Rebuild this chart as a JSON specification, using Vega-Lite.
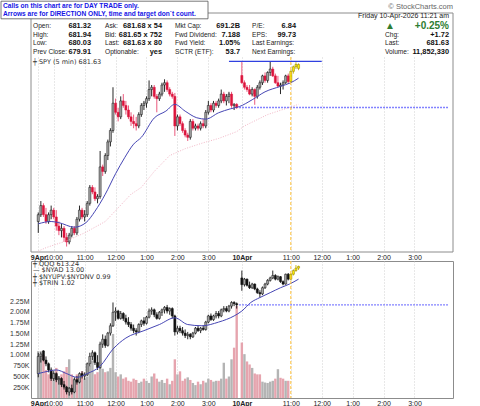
{
  "$schema": "https://vega.github.io/schema/vega-lite/v6.json",
  "padding": 0,
  "background": "white",
  "bounds": "flush",
  "spacing": 9,
  "config": {
    "view": {"stroke": "#8c8c8c"},
    "font": "Liberation Sans",
    "axis": {
      "labelFont": "Liberation Sans",
      "labelFontSize": 7,
      "labelColor": "#333333",
      "domain": false,
      "ticks": false,
      "title": null,
      "gridColor": "#c4c4c4",
      "gridDash": [1, 2],
      "gridWidth": 0.8,
      "labelPadding": 2
    },
    "title": {
      "font": "DejaVu Sans",
      "fontSize": 6.5,
      "fontWeight": "normal",
      "color": "#333333",
      "anchor": "start",
      "frame": "group"
    }
  },
  "datasets": {
    "header": [
      {"col": 0, "row": 2, "label": "Open:", "value": "681.32"},
      {"col": 0, "row": 3, "label": "High:", "value": "681.94"},
      {"col": 0, "row": 4, "label": "Low:", "value": "680.03"},
      {"col": 0, "row": 5, "label": "Prev Close:", "value": "679.91"},
      {"col": 1, "row": 2, "label": "Ask:", "value": "681.68 x 54"},
      {"col": 1, "row": 3, "label": "Bid:", "value": "681.65 x 752"},
      {"col": 1, "row": 4, "label": "Last:", "value": "681.63 x 80"},
      {"col": 1, "row": 5, "label": "Optionable:", "value": "yes"},
      {"col": 2, "row": 2, "label": "Mkt Cap:", "value": "691.2B"},
      {"col": 2, "row": 3, "label": "Fwd Dividend:", "value": "7.188"},
      {"col": 2, "row": 4, "label": "Fwd Yield:", "value": "1.05%"},
      {"col": 2, "row": 5, "label": "SCTR (ETF):", "value": "53.7"},
      {"col": 3, "row": 2, "label": "P/E:", "value": "6.84"},
      {"col": 3, "row": 3, "label": "EPS:", "value": "99.73"},
      {"col": 3, "row": 4, "label": "Last Earnings:", "value": ""},
      {"col": 3, "row": 5, "label": "Next Earnings:", "value": ""},
      {"col": 4, "row": 2, "label": "▲", "value": "+0.25%"},
      {"col": 4, "row": 3, "label": "Chg:", "value": "+1.72"},
      {"col": 4, "row": 4, "label": "Last:", "value": "681.63"},
      {"col": 4, "row": 5, "label": "Volume:", "value": "11,852,330"}
    ],
    "headerRight": [
      {"col": 5, "row": 0, "text": "© StockCharts.com"},
      {"col": 4, "row": 1, "text": "Friday  10-Apr-2026  11:21 am"}
    ],
    "note": [
      {"line": 0, "text": "Calls on this chart are for DAY TRADE only."},
      {"line": 1, "text": "Arrows are for DIRECTION ONLY, time and target don`t count."}
    ],
    "spy": [
      {"t":0,"o":674.9,"h":675.3,"l":674.4,"c":675.2},
      {"t":1,"o":675.2,"h":675.8,"l":675.1,"c":675.6},
      {"t":2,"o":675.6,"h":675.7,"l":675.1,"c":675.2},
      {"t":3,"o":675.2,"h":675.5,"l":674.8,"c":674.9},
      {"t":4,"o":674.9,"h":675.3,"l":674.8,"c":675.2},
      {"t":5,"o":675.2,"h":675.6,"l":675.0,"c":675.4},
      {"t":6,"o":675.4,"h":675.5,"l":675.0,"c":675.1},
      {"t":7,"o":675.1,"h":675.4,"l":674.5,"c":674.7},
      {"t":8,"o":674.7,"h":674.9,"l":674.3,"c":674.5},
      {"t":9,"o":674.5,"h":674.8,"l":674.2,"c":674.6},
      {"t":10,"o":674.6,"h":674.7,"l":674.0,"c":674.2},
      {"t":11,"o":674.2,"h":674.4,"l":673.8,"c":674.0},
      {"t":12,"o":674.0,"h":674.4,"l":673.9,"c":674.3},
      {"t":13,"o":674.3,"h":674.7,"l":674.2,"c":674.6},
      {"t":14,"o":674.6,"h":674.7,"l":674.3,"c":674.4},
      {"t":15,"o":674.4,"h":675.1,"l":674.3,"c":675.0},
      {"t":16,"o":675.0,"h":675.6,"l":674.9,"c":675.4},
      {"t":17,"o":675.4,"h":675.5,"l":675.0,"c":675.1},
      {"t":18,"o":675.1,"h":675.4,"l":674.9,"c":675.2},
      {"t":19,"o":675.2,"h":675.8,"l":675.1,"c":675.7},
      {"t":20,"o":675.7,"h":676.5,"l":675.6,"c":676.4},
      {"t":21,"o":676.4,"h":676.5,"l":676.1,"c":676.2},
      {"t":22,"o":676.2,"h":676.4,"l":675.8,"c":675.9},
      {"t":23,"o":675.9,"h":676.1,"l":675.7,"c":676.0},
      {"t":24,"o":676.0,"h":678.0,"l":675.9,"c":677.3},
      {"t":25,"o":677.3,"h":677.4,"l":676.9,"c":677.1},
      {"t":26,"o":677.1,"h":677.9,"l":677.0,"c":677.8},
      {"t":27,"o":677.8,"h":678.5,"l":677.6,"c":678.4},
      {"t":28,"o":678.4,"h":679.0,"l":678.2,"c":678.9},
      {"t":29,"o":678.9,"h":680.8,"l":678.8,"c":680.1},
      {"t":30,"o":680.1,"h":680.3,"l":679.6,"c":679.7},
      {"t":31,"o":679.7,"h":679.9,"l":679.3,"c":679.5},
      {"t":32,"o":679.5,"h":680.4,"l":679.4,"c":680.2},
      {"t":33,"o":680.2,"h":680.5,"l":679.9,"c":680.0},
      {"t":34,"o":680.0,"h":680.2,"l":679.6,"c":679.8},
      {"t":35,"o":679.8,"h":680.0,"l":679.4,"c":679.5},
      {"t":36,"o":679.5,"h":679.7,"l":679.1,"c":679.3},
      {"t":37,"o":679.3,"h":679.6,"l":679.0,"c":679.2},
      {"t":38,"o":679.2,"h":679.5,"l":678.9,"c":679.1},
      {"t":39,"o":679.1,"h":679.7,"l":679.0,"c":679.6},
      {"t":40,"o":679.6,"h":680.1,"l":679.5,"c":680.0},
      {"t":41,"o":680.0,"h":680.2,"l":679.8,"c":680.1},
      {"t":42,"o":680.1,"h":680.4,"l":679.9,"c":680.3},
      {"t":43,"o":680.3,"h":681.1,"l":680.2,"c":680.7},
      {"t":44,"o":680.7,"h":680.9,"l":680.4,"c":680.8},
      {"t":45,"o":680.8,"h":680.9,"l":680.3,"c":680.4},
      {"t":46,"o":680.4,"h":680.5,"l":679.7,"c":680.3},
      {"t":47,"o":680.3,"h":680.6,"l":680.2,"c":680.5},
      {"t":48,"o":680.5,"h":681.0,"l":680.4,"c":680.9},
      {"t":49,"o":680.9,"h":681.15,"l":680.6,"c":681.0},
      {"t":50,"o":681.0,"h":681.1,"l":680.6,"c":680.7},
      {"t":51,"o":680.7,"h":680.8,"l":680.4,"c":680.5},
      {"t":52,"o":680.5,"h":680.6,"l":680.3,"c":680.4},
      {"t":53,"o":680.4,"h":680.55,"l":678.66,"c":679.1},
      {"t":54,"o":679.1,"h":679.6,"l":678.9,"c":679.5},
      {"t":55,"o":679.5,"h":679.6,"l":679.1,"c":679.2},
      {"t":56,"o":679.2,"h":679.3,"l":678.8,"c":678.9},
      {"t":57,"o":678.9,"h":679.0,"l":678.6,"c":678.7},
      {"t":58,"o":678.7,"h":678.8,"l":678.44,"c":678.6},
      {"t":59,"o":678.6,"h":679.4,"l":678.5,"c":679.3},
      {"t":60,"o":679.3,"h":679.4,"l":678.9,"c":679.0},
      {"t":61,"o":679.0,"h":679.2,"l":678.9,"c":679.1},
      {"t":62,"o":679.1,"h":679.2,"l":678.9,"c":679.0},
      {"t":63,"o":679.0,"h":679.3,"l":678.9,"c":679.2},
      {"t":64,"o":679.2,"h":679.4,"l":679.0,"c":679.1},
      {"t":65,"o":679.1,"h":679.8,"l":679.0,"c":679.7},
      {"t":66,"o":679.7,"h":680.2,"l":679.6,"c":680.0},
      {"t":67,"o":680.0,"h":680.1,"l":679.7,"c":679.8},
      {"t":68,"o":679.8,"h":680.2,"l":679.7,"c":680.1},
      {"t":69,"o":680.1,"h":680.2,"l":679.9,"c":680.0},
      {"t":70,"o":680.0,"h":680.3,"l":679.9,"c":680.2},
      {"t":71,"o":680.2,"h":680.7,"l":680.1,"c":680.5},
      {"t":72,"o":680.5,"h":680.6,"l":680.1,"c":680.2},
      {"t":73,"o":680.2,"h":680.5,"l":680.0,"c":680.4},
      {"t":74,"o":680.4,"h":680.6,"l":680.1,"c":680.5},
      {"t":75,"o":680.5,"h":680.6,"l":679.9,"c":680.0},
      {"t":76,"o":680.0,"h":680.1,"l":679.8,"c":680.05},
      {"t":77,"o":680.05,"h":680.1,"l":679.85,"c":679.91},
      {"t":79,"o":681.32,"h":681.94,"l":680.95,"c":681.0},
      {"t":80,"o":681.0,"h":681.1,"l":680.7,"c":680.8},
      {"t":81,"o":680.8,"h":680.9,"l":680.6,"c":680.7},
      {"t":82,"o":680.7,"h":680.9,"l":680.45,"c":680.5},
      {"t":83,"o":680.5,"h":680.8,"l":680.4,"c":680.7},
      {"t":84,"o":680.7,"h":680.75,"l":680.03,"c":680.4},
      {"t":85,"o":680.4,"h":680.9,"l":680.3,"c":680.8},
      {"t":86,"o":680.8,"h":681.1,"l":680.7,"c":681.0},
      {"t":87,"o":681.0,"h":681.35,"l":680.9,"c":681.3},
      {"t":88,"o":681.3,"h":681.45,"l":681.0,"c":681.1},
      {"t":89,"o":681.1,"h":681.5,"l":681.0,"c":681.45},
      {"t":90,"o":681.45,"h":681.94,"l":681.3,"c":681.6},
      {"t":91,"o":681.6,"h":681.7,"l":681.25,"c":681.3},
      {"t":92,"o":681.3,"h":681.4,"l":680.95,"c":681.0},
      {"t":93,"o":681.0,"h":681.3,"l":680.8,"c":680.85},
      {"t":94,"o":680.85,"h":681.0,"l":680.5,"c":680.9},
      {"t":95,"o":680.9,"h":681.1,"l":680.7,"c":681.0},
      {"t":96,"o":681.0,"h":681.35,"l":680.95,"c":681.3},
      {"t":97,"o":681.3,"h":681.4,"l":680.95,"c":681.05},
      {"t":98,"o":681.05,"h":681.55,"l":681.0,"c":681.5},
      {"t":99,"o":681.5,"h":681.75,"l":681.4,"c":681.7},
      {"t":100,"o":681.7,"h":681.9,"l":681.6,"c":681.8},
      {"t":101,"o":681.8,"h":681.85,"l":681.55,"c":681.63}
    ],
    "spyMa": [
      {"t":0,"v":674.8},{"t":5,"v":674.9},{"t":8,"v":674.85},{"t":14,"v":674.65},
      {"t":18.5,"v":674.85},{"t":22,"v":675.35},{"t":26,"v":676.1},{"t":30,"v":677.0},
      {"t":33.5,"v":677.7},{"t":37,"v":678.3},{"t":40,"v":678.6},{"t":45,"v":679.45},
      {"t":49.5,"v":679.75},{"t":53,"v":680.05},{"t":57,"v":679.75},{"t":61.5,"v":679.46},
      {"t":65,"v":679.4},{"t":70,"v":679.68},{"t":74.5,"v":679.85},{"t":78,"v":679.95},
      {"t":83,"v":680.25},{"t":88,"v":680.6},{"t":94,"v":680.84},{"t":98,"v":681.0},
      {"t":101,"v":681.2}
    ],
    "spyMaLong": [
      {"t":0,"v":673.6},{"t":3,"v":673.75},{"t":11,"v":674.05},{"t":18,"v":674.4},
      {"t":26,"v":674.9},{"t":31,"v":675.5},{"t":36,"v":676.1},{"t":40,"v":676.4},
      {"t":45,"v":677.1},{"t":51,"v":677.8},{"t":57,"v":678.1},{"t":64,"v":678.36},
      {"t":70,"v":678.55},{"t":77,"v":678.85},{"t":80,"v":679.1},{"t":89,"v":679.6},
      {"t":101,"v":680.05}
    ],
    "spyHigh": [{"t": 74, "t2": 110, "p": 681.94}],
    "spyPrev": [{"t": 78, "t2": 159, "p": 679.91}],
    "qqqPrev": [{"t": 78, "t2": 159, "p": 610.1}],
    "marker": [{"t": 98}],
    "qqq": [
      {"t":0,"o":604.5,"h":606.2,"l":604.2,"c":605.9,"v":1090000},
      {"t":1,"o":605.9,"h":606.3,"l":605.4,"c":606.1,"v":950000},
      {"t":2,"o":606.35,"h":606.4,"l":605.5,"c":605.6,"v":1000000},
      {"t":3,"o":605.6,"h":605.9,"l":605.1,"c":605.3,"v":650000},
      {"t":4,"o":605.3,"h":605.4,"l":604.6,"c":604.8,"v":550000},
      {"t":5,"o":604.8,"h":605.0,"l":603.9,"c":604.1,"v":600000},
      {"t":6,"o":604.1,"h":604.7,"l":603.9,"c":604.5,"v":580000},
      {"t":7,"o":604.5,"h":604.6,"l":603.8,"c":604.0,"v":700000},
      {"t":8,"o":604.0,"h":604.3,"l":603.6,"c":604.1,"v":500000},
      {"t":9,"o":604.1,"h":604.2,"l":603.4,"c":603.6,"v":550000},
      {"t":10,"o":603.6,"h":603.9,"l":603.2,"c":603.4,"v":620000},
      {"t":11,"o":603.4,"h":603.5,"l":602.8,"c":603.0,"v":720000},
      {"t":12,"o":603.0,"h":603.4,"l":602.7,"c":603.3,"v":900000},
      {"t":13,"o":603.3,"h":603.6,"l":602.8,"c":603.0,"v":550000},
      {"t":14,"o":603.0,"h":604.2,"l":602.9,"c":604.0,"v":450000},
      {"t":15,"o":604.0,"h":604.3,"l":603.6,"c":603.8,"v":550000},
      {"t":16,"o":603.8,"h":604.6,"l":603.7,"c":604.5,"v":500000},
      {"t":17,"o":604.5,"h":604.7,"l":604.1,"c":604.3,"v":620000},
      {"t":18,"o":604.3,"h":604.6,"l":604.0,"c":604.4,"v":450000},
      {"t":19,"o":604.4,"h":605.4,"l":604.3,"c":605.3,"v":500000},
      {"t":20,"o":605.3,"h":606.2,"l":605.1,"c":605.9,"v":750000},
      {"t":21,"o":605.9,"h":606.4,"l":605.6,"c":606.2,"v":870000},
      {"t":22,"o":606.2,"h":606.3,"l":605.2,"c":605.4,"v":550000},
      {"t":23,"o":605.4,"h":606.0,"l":604.8,"c":605.0,"v":600000},
      {"t":24,"o":605.0,"h":607.1,"l":604.9,"c":606.9,"v":850000},
      {"t":25,"o":606.9,"h":607.7,"l":606.6,"c":607.3,"v":680000},
      {"t":26,"o":607.3,"h":607.6,"l":606.6,"c":606.8,"v":600000},
      {"t":27,"o":606.8,"h":607.9,"l":606.7,"c":607.8,"v":620000},
      {"t":28,"o":607.8,"h":608.6,"l":607.6,"c":608.4,"v":700000},
      {"t":29,"o":608.4,"h":610.3,"l":608.3,"c":609.5,"v":1490000},
      {"t":30,"o":609.5,"h":609.9,"l":608.8,"c":609.6,"v":600000},
      {"t":31,"o":609.6,"h":609.7,"l":608.9,"c":609.0,"v":500000},
      {"t":32,"o":609.0,"h":609.6,"l":608.9,"c":609.4,"v":550000},
      {"t":33,"o":609.4,"h":609.5,"l":608.8,"c":609.0,"v":450000},
      {"t":34,"o":609.0,"h":609.3,"l":608.5,"c":608.7,"v":480000},
      {"t":35,"o":608.7,"h":609.1,"l":608.3,"c":608.5,"v":400000},
      {"t":36,"o":608.5,"h":608.7,"l":608.0,"c":608.2,"v":380000},
      {"t":37,"o":608.2,"h":608.5,"l":607.8,"c":608.0,"v":450000},
      {"t":38,"o":608.0,"h":608.2,"l":607.6,"c":607.9,"v":420000},
      {"t":39,"o":607.9,"h":608.6,"l":607.8,"c":608.5,"v":350000},
      {"t":40,"o":608.5,"h":608.9,"l":608.3,"c":608.8,"v":380000},
      {"t":41,"o":608.8,"h":609.1,"l":608.4,"c":608.6,"v":450000},
      {"t":42,"o":608.6,"h":609.2,"l":608.5,"c":609.1,"v":400000},
      {"t":43,"o":609.1,"h":609.8,"l":609.0,"c":609.6,"v":350000},
      {"t":44,"o":609.6,"h":609.9,"l":609.3,"c":609.7,"v":500000},
      {"t":45,"o":609.7,"h":609.8,"l":609.1,"c":609.3,"v":570000},
      {"t":46,"o":609.3,"h":609.5,"l":608.9,"c":609.0,"v":450000},
      {"t":47,"o":609.0,"h":609.6,"l":608.9,"c":609.5,"v":380000},
      {"t":48,"o":609.5,"h":609.8,"l":609.2,"c":609.7,"v":420000},
      {"t":49,"o":609.7,"h":610.0,"l":609.4,"c":609.9,"v":350000},
      {"t":50,"o":609.9,"h":610.1,"l":609.4,"c":609.6,"v":450000},
      {"t":51,"o":609.6,"h":609.9,"l":609.3,"c":609.8,"v":320000},
      {"t":52,"o":609.8,"h":609.9,"l":609.0,"c":609.2,"v":400000},
      {"t":53,"o":609.2,"h":609.3,"l":607.6,"c":607.9,"v":900000},
      {"t":54,"o":607.9,"h":608.4,"l":607.7,"c":608.2,"v":550000},
      {"t":55,"o":608.2,"h":608.4,"l":607.8,"c":608.0,"v":620000},
      {"t":56,"o":608.0,"h":608.3,"l":607.6,"c":607.8,"v":400000},
      {"t":57,"o":607.8,"h":608.1,"l":607.4,"c":607.6,"v":450000},
      {"t":58,"o":607.6,"h":607.9,"l":607.3,"c":607.7,"v":480000},
      {"t":59,"o":607.7,"h":607.8,"l":607.3,"c":607.5,"v":420000},
      {"t":60,"o":607.5,"h":607.9,"l":607.4,"c":607.8,"v":350000},
      {"t":61,"o":607.8,"h":608.3,"l":607.7,"c":608.2,"v":300000},
      {"t":62,"o":608.2,"h":608.4,"l":607.9,"c":608.0,"v":380000},
      {"t":63,"o":608.0,"h":608.3,"l":607.8,"c":608.2,"v":320000},
      {"t":64,"o":608.2,"h":608.4,"l":608.0,"c":608.1,"v":400000},
      {"t":65,"o":608.1,"h":608.8,"l":608.0,"c":608.7,"v":360000},
      {"t":66,"o":608.7,"h":609.3,"l":608.6,"c":609.2,"v":450000},
      {"t":67,"o":609.2,"h":609.4,"l":608.8,"c":608.9,"v":420000},
      {"t":68,"o":608.9,"h":609.3,"l":608.8,"c":609.2,"v":380000},
      {"t":69,"o":609.2,"h":609.6,"l":609.0,"c":609.4,"v":400000},
      {"t":70,"o":609.4,"h":609.6,"l":609.0,"c":609.2,"v":400000},
      {"t":71,"o":609.2,"h":609.8,"l":609.1,"c":609.7,"v":450000},
      {"t":72,"o":609.7,"h":610.0,"l":609.5,"c":609.8,"v":820000},
      {"t":73,"o":609.8,"h":610.0,"l":609.5,"c":609.6,"v":450000},
      {"t":74,"o":609.6,"h":610.1,"l":609.5,"c":610.0,"v":500000},
      {"t":75,"o":610.0,"h":610.4,"l":609.8,"c":610.3,"v":900000},
      {"t":76,"o":610.3,"h":610.4,"l":610.0,"c":610.2,"v":1170000},
      {"t":77,"o":610.2,"h":610.3,"l":609.8,"c":610.1,"v":2140000},
      {"t":79,"o":612.3,"h":612.9,"l":611.25,"c":611.75,"v":1290000},
      {"t":80,"o":611.75,"h":612.3,"l":611.6,"c":612.2,"v":1020000},
      {"t":81,"o":612.2,"h":612.25,"l":611.6,"c":611.7,"v":850000},
      {"t":82,"o":611.7,"h":612.0,"l":611.4,"c":611.5,"v":780000},
      {"t":83,"o":611.5,"h":611.9,"l":611.4,"c":611.8,"v":700000},
      {"t":84,"o":611.8,"h":611.85,"l":611.3,"c":611.4,"v":570000},
      {"t":85,"o":611.4,"h":611.5,"l":611.0,"c":611.1,"v":550000},
      {"t":86,"o":611.1,"h":611.3,"l":610.7,"c":611.0,"v":550000},
      {"t":87,"o":611.0,"h":611.6,"l":610.9,"c":611.5,"v":380000},
      {"t":88,"o":611.5,"h":611.9,"l":611.4,"c":611.8,"v":360000},
      {"t":89,"o":611.8,"h":612.2,"l":611.7,"c":612.1,"v":350000},
      {"t":90,"o":612.1,"h":612.4,"l":612.0,"c":612.3,"v":380000},
      {"t":91,"o":612.3,"h":612.9,"l":612.2,"c":612.5,"v":400000},
      {"t":92,"o":612.5,"h":612.6,"l":612.1,"c":612.2,"v":450000},
      {"t":93,"o":612.2,"h":612.5,"l":612.1,"c":612.4,"v":670000},
      {"t":94,"o":612.4,"h":612.45,"l":611.9,"c":612.0,"v":470000},
      {"t":95,"o":612.0,"h":612.1,"l":611.7,"c":611.8,"v":450000},
      {"t":96,"o":611.8,"h":612.65,"l":611.75,"c":612.6,"v":400000},
      {"t":97,"o":612.6,"h":612.7,"l":612.1,"c":612.2,"v":400000},
      {"t":98,"o":612.2,"h":612.7,"l":612.1,"c":612.6},
      {"t":99,"o":612.6,"h":613.0,"l":612.5,"c":612.9},
      {"t":100,"o":612.9,"h":613.35,"l":612.8,"c":613.1},
      {"t":101,"o":613.1,"h":613.3,"l":612.95,"c":613.24}
    ],
    "qqqMa": [
      {"t":0,"v":604.5},{"t":4,"v":604.7},{"t":7,"v":604.8},{"t":11,"v":604.5},
      {"t":15,"v":604.2},{"t":19,"v":604.5},{"t":24,"v":605.1},{"t":29,"v":606.5},
      {"t":34,"v":607.4},{"t":41,"v":608.0},{"t":47,"v":608.5},{"t":53,"v":609.05},
      {"t":58,"v":608.5},{"t":63.5,"v":608.4},{"t":70,"v":608.7},{"t":76,"v":609.2},
      {"t":79,"v":609.6},{"t":82.5,"v":610.3},{"t":86,"v":610.7},{"t":90,"v":611.1},
      {"t":94,"v":611.5},{"t":97.5,"v":611.8},{"t":101,"v":612.2}
    ]
  },
  "vconcat": [
    {
      "width": 422,
      "height": 35,
      "view": {"stroke": null},
      "layer": [
        {
          "data": {"values": [{}]},
          "mark": {"type": "rect", "fill": "transparent", "stroke": "#8c8c8c", "strokeWidth": 1},
          "encoding": {
            "x": {"datum": 0, "type": "quantitative", "scale": {"domain": [0, 1], "range": [0, 422], "nice": false, "zero": false}, "axis": null},
            "x2": {"datum": 1},
            "y": {"datum": 0, "type": "quantitative", "scale": {"domain": [0, 1], "range": [0, 239], "nice": false, "zero": false}, "axis": null},
            "y2": {"datum": 1}
          }
        },
        {
          "data": {"name": "header"},
          "mark": {"type": "text", "align": "left", "baseline": "middle", "font": "Liberation Sans"},
          "encoding": {
            "x": {"field": "col", "type": "quantitative", "scale": {"domain": [0, 1, 2, 3, 4], "range": [2, 74, 144, 221, 354], "nice": false, "zero": false}, "axis": null},
            "y": {"field": "row", "type": "quantitative", "scale": {"domain": [0, 1, 2, 5], "range": [-6, 3, 13, 39], "nice": false, "zero": false}, "axis": null},
            "text": {"field": "label"},
            "color": {"condition": {"test": "datum.label == '▲'", "value": "#2e7d32"}, "value": "#222222"},
            "size": {"condition": {"test": "datum.label == '▲'", "value": 10}, "value": 6.6}
          }
        },
        {
          "data": {"name": "header"},
          "mark": {"type": "text", "align": "right", "baseline": "middle", "fontWeight": "bold", "font": "Liberation Sans"},
          "encoding": {
            "x": {"field": "col", "type": "quantitative", "scale": {"domain": [0, 1, 2, 3, 4, 5], "range": [60, 131, 209, 265, 418, 422], "nice": false, "zero": false}, "axis": null},
            "y": {"field": "row", "type": "quantitative", "scale": {"domain": [0, 1, 2, 5], "range": [-6, 3, 13, 39], "nice": false, "zero": false}, "axis": null},
            "text": {"field": "value"},
            "color": {"condition": {"test": "datum.label == '▲'", "value": "#2e7d32"}, "value": "#111111"},
            "size": {"condition": {"test": "datum.label == '▲'", "value": 10}, "value": 7.4}
          }
        },
        {
          "data": {"name": "headerRight"},
          "mark": {"type": "text", "align": "right", "baseline": "middle", "font": "Liberation Sans"},
          "encoding": {
            "x": {"field": "col", "type": "quantitative", "scale": {"domain": [0, 1, 2, 3, 4, 5], "range": [60, 131, 209, 265, 418, 422], "nice": false, "zero": false}, "axis": null},
            "y": {"field": "row", "type": "quantitative", "scale": {"domain": [0, 1, 2, 5], "range": [-6, 3, 13, 39], "nice": false, "zero": false}, "axis": null},
            "text": {"field": "text"},
            "color": {"condition": {"test": "datum.row == 0", "value": "#666666"}, "value": "#222222"},
            "size": {"condition": {"test": "datum.row == 0", "value": 7.5}, "value": 7}
          }
        },
        {
          "layer": [
            {
              "data": {"values": [{}]},
              "mark": {"type": "rect", "fill": "white", "stroke": "#555555", "strokeWidth": 0.8},
              "encoding": {
                "x": {"datum": 0, "type": "quantitative", "scale": {"domain": [0, 1], "range": [-30, 177], "nice": false, "zero": false}, "axis": null},
                "x2": {"datum": 1},
                "y": {"datum": -0.6, "type": "quantitative", "scale": {"domain": [0, 1], "range": [-7, 1], "nice": false, "zero": false}, "axis": null},
                "y2": {"datum": 1.6}
              }
            },
            {
              "data": {"name": "note"},
              "mark": {"type": "text", "align": "left", "baseline": "middle", "dx": 2, "fontWeight": "bold", "fontSize": 6.6, "color": "#1515e6", "font": "Liberation Sans"},
              "encoding": {
                "x": {"datum": 0, "type": "quantitative"},
                "y": {"field": "line", "type": "quantitative"},
                "text": {"field": "text"}
              }
            }
          ]
        }
      ],
      "resolve": {"scale": {"x": "independent", "y": "independent"}}
    },
    {
      "width": 422,
      "height": 195,
      "view": {"stroke": null},
      "title": {"text": "┿ SPY (5 min) 681.63", "offset": -9, "dx": 2},
      "encoding": {
        "x": {
          "field": "t",
          "type": "quantitative",
          "scale": {"domain": [-0.88, 159], "nice": false, "zero": false},
          "axis": {
            "values": [0, 6, 18, 30, 42, 54, 66, 79, 98, 110, 122, 134, 146],
            "labelExpr": "datum.value == 0 ? '9Apr' : datum.value == 79 ? '10Apr' : datum.value == 6 ? '10:00' : (datum.value == 18 || datum.value == 98) ? '11:00' : (datum.value == 30 || datum.value == 110) ? '12:00' : (datum.value == 42 || datum.value == 122) ? '1:00' : (datum.value == 54 || datum.value == 134) ? '2:00' : '3:00'",
            "labelFontWeight": {"condition": {"test": "datum.value == 0 || datum.value == 79", "value": "bold"}, "value": "normal"},
            "grid": true,
            "labelOverlap": false,
            "labelFlush": false,
            "labelPadding": 1,
            "labelColor": "#222222"
          }
        }
      },
      "layer": [
        {
          "data": {"name": "spy"},
          "mark": {"type": "rule", "strokeWidth": 0.9},
          "encoding": {
            "y": {
              "field": "l",
              "type": "quantitative",
              "scale": {"domain": [673.56, 682.13], "nice": false, "zero": false},
              "axis": {"orient": "right", "values": [674, 674.5, 675, 675.5, 676, 676.5, 677, 677.5, 678, 678.5, 679, 679.5, 680, 680.5, 681, 681.5, 682], "format": ".1f", "grid": true}
            },
            "y2": {"field": "h"},
            "color": {"condition": [{"test": "datum.t >= 98", "value": "#c9b000"}, {"test": "datum.c < datum.o", "value": "#e8466e"}], "value": "#111111"}
          }
        },
        {
          "data": {"name": "spy"},
          "mark": {"type": "bar", "size": 2.1, "strokeWidth": 0.5},
          "encoding": {
            "y": {"field": "o", "type": "quantitative", "scale": {"domain": [673.56, 682.13], "nice": false, "zero": false}, "axis": null},
            "y2": {"field": "c"},
            "fill": {"condition": [{"test": "datum.t >= 98", "value": "#fff000"}, {"test": "datum.c < datum.o", "value": "#dc143c"}], "value": "#a6a6a6"},
            "stroke": {"condition": [{"test": "datum.t >= 98", "value": "#8a7800"}, {"test": "datum.c < datum.o", "value": "#dc143c"}], "value": "#111111"}
          }
        },
        {
          "data": {"name": "spyMaLong"},
          "mark": {"type": "line", "color": "#f2b6c6", "strokeWidth": 1, "strokeDash": [1, 1.5], "clip": true},
          "encoding": {
            "y": {"field": "v", "type": "quantitative", "scale": {"domain": [673.56, 682.13], "nice": false, "zero": false}, "axis": null}
          }
        },
        {
          "data": {"name": "spyMa"},
          "mark": {"type": "line", "color": "#4646b4", "strokeWidth": 1, "interpolate": "monotone"},
          "encoding": {
            "y": {"field": "v", "type": "quantitative", "scale": {"domain": [673.56, 682.13], "nice": false, "zero": false}, "axis": null}
          }
        },
        {
          "data": {"name": "spyHigh"},
          "mark": {"type": "rule", "color": "#3040e0", "strokeWidth": 1.2},
          "encoding": {
            "x2": {"field": "t2"},
            "y": {"field": "p", "type": "quantitative", "scale": {"domain": [673.56, 682.13], "nice": false, "zero": false}, "axis": null}
          }
        },
        {
          "data": {"name": "spyPrev"},
          "mark": {"type": "rule", "color": "#5a5aff", "strokeWidth": 1.3, "strokeDash": [1.5, 1.5]},
          "encoding": {
            "x2": {"field": "t2"},
            "y": {"field": "p", "type": "quantitative", "scale": {"domain": [673.56, 682.13], "nice": false, "zero": false}, "axis": null}
          }
        },
        {
          "data": {"name": "marker"},
          "mark": {"type": "rule", "color": "#ffc23a", "strokeWidth": 1, "strokeDash": [3, 2]},
          "encoding": {}
        }
      ]
    },
    {
      "width": 422,
      "height": 137,
      "title": {"text": ["┿ QQQ 613.24", "— $NYAD 13.00", "┿ $NYUPV:$NYDNV 0.99", "┿ $TRIN 1.02"], "offset": -26, "dx": 2, "lineHeight": 6.5},
      "encoding": {
        "x": {
          "field": "t",
          "type": "quantitative",
          "scale": {"domain": [-0.88, 159], "nice": false, "zero": false},
          "axis": {
            "values": [0, 6, 18, 30, 42, 54, 66, 79, 98, 110, 122, 134, 146],
            "labelExpr": "datum.value == 0 ? '9Apr' : datum.value == 79 ? '10Apr' : datum.value == 6 ? '10:00' : (datum.value == 18 || datum.value == 98) ? '11:00' : (datum.value == 30 || datum.value == 110) ? '12:00' : (datum.value == 42 || datum.value == 122) ? '1:00' : (datum.value == 54 || datum.value == 134) ? '2:00' : '3:00'",
            "labelFontWeight": {"condition": {"test": "datum.value == 0 || datum.value == 79", "value": "bold"}, "value": "normal"},
            "grid": true,
            "labelOverlap": false,
            "labelFlush": false,
            "labelPadding": 1,
            "labelColor": "#222222"
          }
        }
      },
      "layer": [
        {
          "data": {"name": "qqq"},
          "mark": {"type": "bar", "size": 2.4},
          "encoding": {
            "y": {
              "field": "v",
              "type": "quantitative",
              "scale": {"domain": [0, 3186000], "nice": false, "zero": true},
              "axis": {"orient": "left", "values": [250000, 500000, 750000, 1000000, 1250000, 1500000, 1750000, 2000000, 2250000], "labelExpr": "datum.value >= 1000000 ? format(datum.value / 1000000, '.2f') + 'M' : format(datum.value / 1000, 'd') + 'K'", "grid": false}
            },
            "color": {"condition": {"test": "datum.c < datum.o", "value": "#e6a4ae"}, "value": "#b4b4b4"}
          }
        },
        {
          "layer": [
            {
              "data": {"name": "qqq"},
              "mark": {"type": "rule", "strokeWidth": 0.9},
              "encoding": {
                "y": {
                  "field": "l",
                  "type": "quantitative",
                  "scale": {"domain": [602.51, 613.68], "nice": false, "zero": false},
                  "axis": {"orient": "right", "values": [603, 604, 605, 606, 607, 608, 609, 610, 611, 612, 613], "format": "d", "grid": true}
                },
                "y2": {"field": "h"},
                "color": {"condition": {"test": "datum.t >= 98", "value": "#c9b000"}, "value": "#111111"}
              }
            },
            {
              "data": {"name": "qqq"},
              "mark": {"type": "bar", "size": 2.1, "strokeWidth": 0.5},
              "encoding": {
                "y": {"field": "o", "type": "quantitative", "scale": {"domain": [602.51, 613.68], "nice": false, "zero": false}, "axis": null},
                "y2": {"field": "c"},
                "fill": {"condition": [{"test": "datum.t >= 98", "value": "#fff000"}, {"test": "datum.c < datum.o", "value": "#111111"}], "value": "#a6a6a6"},
                "stroke": {"condition": {"test": "datum.t >= 98", "value": "#8a7800"}, "value": "#111111"}
              }
            },
            {
              "data": {"name": "qqqMa"},
              "mark": {"type": "line", "color": "#4646b4", "strokeWidth": 1, "interpolate": "monotone"},
              "encoding": {
                "y": {"field": "v", "type": "quantitative", "scale": {"domain": [602.51, 613.68], "nice": false, "zero": false}, "axis": null}
              }
            },
            {
              "data": {"name": "qqqPrev"},
              "mark": {"type": "rule", "color": "#5a5aff", "strokeWidth": 1.3, "strokeDash": [1.5, 1.5]},
              "encoding": {
                "x2": {"field": "t2"},
                "y": {"field": "p", "type": "quantitative", "scale": {"domain": [602.51, 613.68], "nice": false, "zero": false}, "axis": null}
              }
            },
            {
              "data": {"name": "marker"},
              "mark": {"type": "rule", "color": "#ffc23a", "strokeWidth": 1, "strokeDash": [3, 2]},
              "encoding": {}
            }
          ]
        }
      ],
      "resolve": {"scale": {"y": "independent"}}
    }
  ]
}
